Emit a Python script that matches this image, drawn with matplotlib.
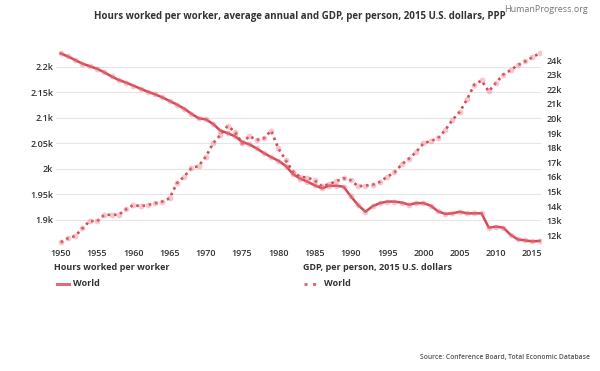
import matplotlib
matplotlib.use("Agg")
import matplotlib.pyplot as plt
from matplotlib.lines import Line2D

years = list(range(1950, 2017))

hours = [2226, 2220, 2213, 2206, 2201, 2196, 2189, 2181, 2174, 2169,
         2163, 2157, 2151, 2146, 2140, 2133, 2126, 2118, 2108, 2099,
         2097, 2088, 2075, 2070, 2064, 2053, 2048, 2040, 2031, 2023,
         2016, 2006, 1990, 1981, 1975, 1968, 1962, 1967, 1967, 1965,
         1946, 1929, 1916, 1927, 1933, 1936, 1936, 1934, 1930, 1933,
         1933, 1928, 1917, 1912, 1913, 1916, 1913, 1913, 1913, 1885,
         1887, 1885, 1871, 1862, 1860, 1858, 1859]

gdp = [11514, 11788, 11945, 12473, 12973, 12950, 13384, 13400, 13400, 13774,
       14068, 13990, 14068, 14185, 14300, 14530, 15555, 16007, 16580, 16740,
       17378, 18295, 18860, 19480, 19090, 18295, 18795, 18520, 18637, 19160,
       17950, 17150, 16350, 16000, 15950, 15750, 15350, 15500, 15700, 15900,
       15750, 15350, 15400, 15450, 15650, 16000, 16300, 16850, 17250, 17700,
       18300, 18450, 18650, 19200, 19900, 20450, 21300, 22300, 22600, 21850,
       22450, 23000, 23300, 23650, 23900, 24180, 24460]

left_ticks = [1900, 1950, 2000, 2050, 2100, 2150, 2200]
left_labels = ["1.9k", "1.95k", "2k", "2.05k", "2.1k", "2.15k", "2.2k"]
right_ticks = list(range(12000, 25000, 1000))
right_labels = [f"{v // 1000}k" for v in right_ticks]
x_ticks = list(range(1950, 2016, 5))

plt.rcParams['font.family'] = ['Open Sans', 'DejaVu Sans']

RED = '#d24a55'
PINK = (0.91, 0.45, 0.52, 0.40)
TXT = '#333333'

fig = plt.figure(figsize=(6, 3.71), dpi=100)
ax = fig.add_axes([56 / 600, 1 - 245 / 371, 485 / 600, 195 / 371])
ax2 = ax.twinx()

ax.set_xlim(1949.35, 2016.2)
ax.set_ylim(1851, 2232.7)
ax2.set_ylim(11329, 24685)

ax.plot(years, hours, color=RED, lw=1.8, zorder=3)
ax.plot(years, hours, ls='none', marker='o', ms=4.2,
        markerfacecolor=PINK, markeredgecolor='none', zorder=4)
ax2.plot(years, gdp, color=RED, lw=1.9, ls=(0, (1, 1.4)), zorder=3)
ax2.plot(years, gdp, ls='none', marker='o', ms=4.2,
         markerfacecolor=PINK, markeredgecolor='none', zorder=4)

ax.set_yticks(left_ticks)
ax.set_yticklabels(left_labels)
ax2.set_yticks(right_ticks)
ax2.set_yticklabels(right_labels)
ax.set_xticks(x_ticks)
ax.set_xticklabels([str(x) for x in x_ticks])

for a in (ax, ax2):
    for s in a.spines.values():
        s.set_visible(False)
    a.tick_params(length=0, labelsize=6.5, colors=TXT)
    for lab in a.get_xticklabels() + a.get_yticklabels():
        lab.set_fontweight('semibold')
ax.tick_params(axis='y', pad=2)
ax2.tick_params(axis='y', pad=4)
ax.tick_params(axis='x', pad=3)
ax.grid(axis='y', color='#e6e6e6', lw=0.8)
ax.set_axisbelow(True)

fig.text(0.5, 1 - 17 / 371, "Hours worked per worker, average annual and GDP, per person, 2015 U.S. dollars, PPP",
         ha='center', va='center', fontsize=7, fontweight='bold', color=TXT)
fig.text(588 / 600, 1 - 9 / 371, "HumanProgress.org", ha='right', va='center',
         fontsize=6.5, color='#777777')
fig.text(590 / 600, 1 - 357 / 371, "Source: Conference Board, Total Economic Database",
         ha='right', va='center', fontsize=4.9, color='#555555', fontweight='semibold')

# legends
fig.text(54 / 600, 1 - 268 / 371, "Hours worked per worker", ha='left', va='center',
         fontsize=6.5, fontweight='bold', color=TXT)
fig.text(73 / 600, 1 - 284 / 371, "World", ha='left', va='center',
         fontsize=6.5, fontweight='bold', color=TXT)
fig.add_artist(Line2D([57 / 600, 69 / 600], [1 - 284 / 371] * 2, color=RED, lw=2.2, alpha=0.8))

fig.text(303 / 600, 1 - 268 / 371, "GDP, per person, 2015 U.S. dollars", ha='left', va='center',
         fontsize=6.5, fontweight='bold', color=TXT)
fig.text(324 / 600, 1 - 284 / 371, "World", ha='left', va='center',
         fontsize=6.5, fontweight='bold', color=TXT)
fig.add_artist(Line2D([304 / 600, 319 / 600], [1 - 284 / 371] * 2, color=RED, lw=2.2,
                      ls=(0, (1, 1.8)), alpha=0.8))

fig.savefig("out.png", dpi=100)
